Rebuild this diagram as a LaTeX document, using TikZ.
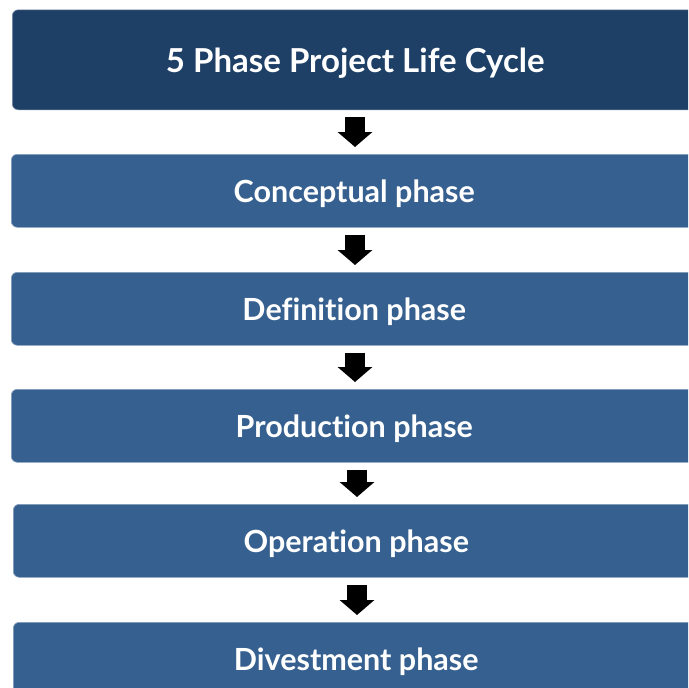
\documentclass[tikz,border=0pt]{standalone}
\usepackage{fontspec}
\setmainfont{Lato}[Ligatures={NoCommon,NoRequired,NoContextual}]
\usetikzlibrary{arrows.meta}
\definecolor{titlebg}{RGB}{31,64,102}
\definecolor{phasebg}{RGB}{54,96,143}
\tikzset{
  boxbase/.style={rounded corners=6pt, anchor=north west, text=white, minimum width=686pt, inner sep=0pt, text depth=0pt},
  titlebox/.style={boxbase, fill=titlebg, draw=titlebg!60!white, line width=0.6pt, minimum height=100pt, font=\bfseries\fontsize{33}{38}\selectfont},
  phasebox/.style={boxbase, fill=phasebg, draw=phasebg!60!white, line width=0.6pt, minimum height=73pt, font=\bfseries\fontsize{30.5}{35}\selectfont},
  flow/.style={line width=20pt, -{Triangle[width=34pt,length=15pt]}, shorten <=7pt, shorten >=7pt, black}
}
\begin{document}
\begin{tikzpicture}[x=1pt,y=1pt]
\useasboundingbox (0,0) rectangle (688,-688);
\clip (0,0) rectangle (688,-688);
\node[titlebox] (t) at (12,-9.5) {5 Phase Project Life Cycle};
\node[phasebox] (p1) at (11,-154) {Conceptual phase};
\node[phasebox] (p2) at (11,-272) {Definition phase};
\node[phasebox] (p3) at (11,-389) {Production phase};
\node[phasebox] (p4) at (13,-504) {Operation phase};
\node[phasebox] (p5) at (13,-622) {Divestment phase};
\draw[flow] (t.south -| 355,0) -- (p1.north -| 355,0);
\draw[flow] (p1.south -| 355,0) -- (p2.north -| 355,0);
\draw[flow] (p2.south -| 355,0) -- (p3.north -| 355,0);
\draw[flow] (p3.south -| 357,0) -- (p4.north -| 357,0);
\draw[flow] (p4.south -| 357,0) -- (p5.north -| 357,0);
\end{tikzpicture}
\end{document}
